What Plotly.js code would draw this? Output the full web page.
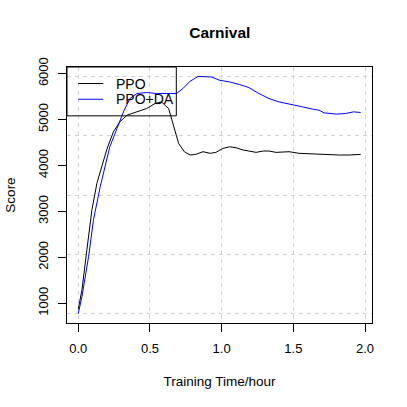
<!DOCTYPE html>
<html>
<head>
<meta charset="utf-8">
<script src="https://cdn.plot.ly/plotly-3.0.1.min.js"></script>
<style>html,body{margin:0;padding:0;background:#fff;}#chart{width:407px;height:407px;}</style>
</head>
<body>
<div id="chart"></div>
<script>
// ---- data ----
const chartTitle = "Carnival";
const xTitle = "Training Time/hour";
const yTitle = "Score";
const seriesNames = ["PPO", "PPO+DA"];
const seriesColors = ["#000000", "#0000ff"];

const ppoTime = [0, 0.026, 0.06, 0.095, 0.13, 0.165, 0.2, 0.245, 0.29, 0.34, 0.41, 0.477, 0.535, 0.58, 0.63, 0.66, 0.70, 0.74, 0.78, 0.82, 0.87, 0.92, 0.96, 1.01, 1.056, 1.10, 1.15, 1.19, 1.24, 1.29, 1.33, 1.38, 1.47, 1.54, 1.635, 1.73, 1.82, 1.89, 1.97];
const ppoScore = [870, 1300, 2165, 3033, 3613, 4010, 4360, 4733, 4950, 5095, 5167, 5240, 5349, 5384, 5240, 4930, 4480, 4299, 4227, 4242, 4299, 4264, 4285, 4372, 4407, 4386, 4335, 4314, 4285, 4314, 4314, 4285, 4299, 4264, 4249, 4227, 4227, 4227, 4242];

const daTime = [0, 0.026, 0.072, 0.106, 0.153, 0.2, 0.22, 0.27, 0.315, 0.36, 0.41, 0.477, 0.546, 0.616, 0.685, 0.73, 0.78, 0.835, 0.93, 0.986, 1.056, 1.125, 1.19, 1.26, 1.33, 1.40, 1.50, 1.565, 1.635, 1.68, 1.715, 1.80, 1.865, 1.92, 1.97];
const daScore = [776, 1152, 2020, 2816, 3540, 4118, 4407, 4806, 5167, 5457, 5566, 5588, 5566, 5566, 5566, 5675, 5833, 5937, 5926, 5855, 5818, 5761, 5696, 5566, 5457, 5384, 5327, 5275, 5225, 5203, 5145, 5117, 5131, 5167, 5153];

const xTicks = [0, 0.5, 1, 1.5, 2];
const xTickText = ["0.0", "0.5", "1.0", "1.5", "2.0"];
const yTicks = [1000, 2000, 3000, 4000, 5000, 6000];

// ---- R-like ranges ----
const allX = ppoTime.concat(daTime), allY = ppoScore.concat(daScore);
const xmin = Math.min(...allX), xmax = Math.max(...allX);
const ymin = Math.min(...allY), ymax = Math.max(...allY);
const xr = [xmin - 0.04 * (xmax - xmin), xmax + 0.04 * (xmax - xmin)];
const yr = [ymin - 0.04 * (ymax - ymin), ymax + 0.04 * (ymax - ymin)];
const yGrid = [0, 1, 2, 3, 4].map(k => ymin + k * (ymax - ymin) / 4);

const font = "Liberation Sans, Arial, Helvetica, sans-serif";

const traces = [
  {x: ppoTime, y: ppoScore, name: seriesNames[0], type: "scatter", mode: "lines",
   line: {color: seriesColors[0], width: 1}},
  {x: daTime, y: daScore, name: seriesNames[1], type: "scatter", mode: "lines",
   line: {color: seriesColors[1], width: 1}},
  {x: [xmin], y: [ymin], yaxis: "y2", mode: "markers", marker: {opacity: 0},
   showlegend: false, hoverinfo: "skip"}
];

// ---- R-style legend (box, line keys, labels) in plot-area fractions ----
const legBox = {x0: 0, x1: 0.3584, y0: 0.8092, y1: 1};
const legRowsY = [0.9354, 0.874];
const legKeyX = [0.037, 0.1188];
const legTextX = 0.155;
const shapes = [
  {type: "rect", xref: "paper", yref: "paper", x0: legBox.x0, x1: legBox.x1, y0: legBox.y0, y1: legBox.y1,
   line: {color: "#000", width: 1}, fillcolor: "rgba(0,0,0,0)"}
];
const annotations = [];
seriesNames.forEach((nm, i) => {
  shapes.push({type: "line", xref: "paper", yref: "paper", x0: legKeyX[0], x1: legKeyX[1],
               y0: legRowsY[i], y1: legRowsY[i], line: {color: seriesColors[i], width: 1}});
  annotations.push({xref: "paper", yref: "paper", x: legTextX, y: legRowsY[i], text: nm,
                    showarrow: false, xanchor: "left", yanchor: "middle",
                    font: {family: font, size: 14, color: "#000"}});
});

const layout = {
  width: 407, height: 407,
  margin: {l: 67, r: 34.5, t: 66.7, b: 83.5},
  paper_bgcolor: "#ffffff", plot_bgcolor: "rgba(0,0,0,0)",
  font: {family: font, size: 13, color: "#000"},
  title: {text: "<b>" + chartTitle + "</b>", font: {family: font, size: 15.5, color: "#000"},
          x: 0.54, xanchor: "center", y: 1 - 33 / 407, yanchor: "middle"},
  showlegend: false,
  shapes: shapes,
  annotations: annotations,
  xaxis: {range: xr, tickvals: xTicks, ticktext: xTickText, ticks: "outside", ticklen: 8,
          tickcolor: "#000", showline: true, mirror: true, linecolor: "#000", linewidth: 1,
          showgrid: true, gridcolor: "#d3d3d3", griddash: "4px,4px", gridwidth: 1,
          zeroline: false, ticklabelstandoff: 5, tickfont: {family: font, size: 13},
          title: {text: xTitle, font: {family: font, size: 13.5}, standoff: 21}},
  yaxis: {range: yr, tickvals: yTicks, ticks: "outside", ticklen: 8, tickangle: -90,
          tickcolor: "#000", showline: true, mirror: true, linecolor: "#000", linewidth: 1,
          showgrid: false, zeroline: false, ticklabelstandoff: 5, tickfont: {family: font, size: 13},
          title: {text: yTitle, font: {family: font, size: 13.5}, standoff: 17}},
  yaxis2: {range: yr, overlaying: "y", tickvals: yGrid, showticklabels: false, ticks: "",
           showgrid: true, gridcolor: "#d3d3d3", griddash: "4px,4px", gridwidth: 1,
           zeroline: false, showline: false}
};

Plotly.newPlot("chart", traces, layout, {staticPlot: true, displayModeBar: false});
</script>
</body>
</html>
